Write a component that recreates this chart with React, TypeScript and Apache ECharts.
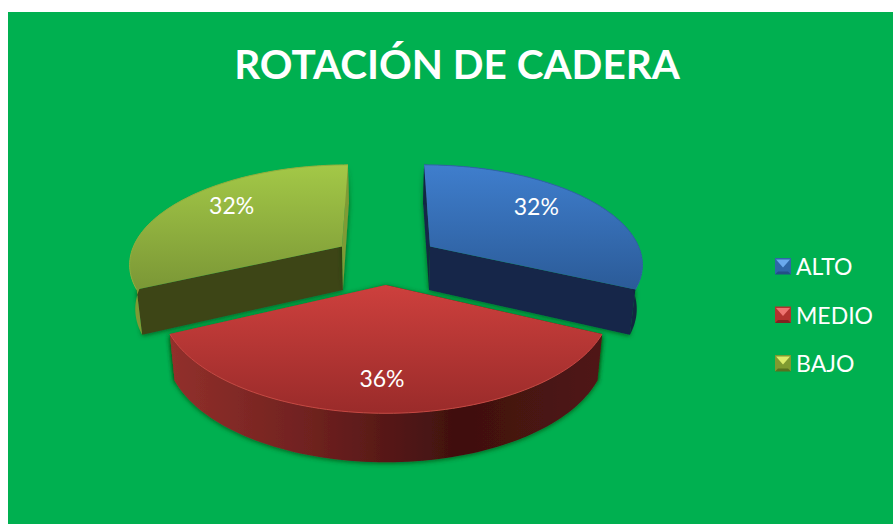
import React, { useEffect, useRef } from "react";
import * as echarts from "echarts";

const categories = ["ALTO", "MEDIO", "BAJO"];
const values = [32, 36, 32];
const titleText = "ROTACIÓN DE CADERA";

const FONT = "Lato, 'Open Sans', sans-serif";
const topColors = [["#3f7ecd", "#2b5b98"], ["#cd403d", "#9a2b2a"], ["#a3c847", "#7b9736"]];
const rimColors = ["#2f66a6", "#c94643", "#8faf3e"];
const wallColors: string[][] = [
  ["#14284a", "#122640"],
  ["#92302b", "#6e211f", "#3f100f", "#501614"],
  ["#3c4518", "#3a4318"],
];
const startWallColors = ["#14284a", "#501614", "#3c4518"];
const endWallColors = ["#13274a", "#92302b", "#7f9a35"];
const outerWallColors: any[] = ["#122640", null, "#7f9a35"];
const swatchColors = [
  ["#2f66a8", "#6aa9ee", "#234f86"],
  ["#b3322f", "#ee7370", "#7e2321"],
  ["#7f9a30", "#dceb6a", "#58701f"],
];
const labelT = [0.9, 1.01, 0.92];
const labelDx = [0, -4, -1];
const labelDy = [-9, 0, -9];
const zOrder = [2, 3, 2];

const CX = 386, CY = 259.4, RX = 213, RY = 98.5, K = 0.16, EXPLODE = 0.25, Q = 0.978;

const total = values.reduce((a, b) => a + b, 0);
const starts: number[] = [];
values.reduce((acc, v, i) => {
  starts[i] = (acc / total) * 2 * Math.PI;
  return acc + v;
}, 0);

function project(X: number, Y: number) {
  const w = 1 - K * Y;
  return { x: CX + (RX * X) / w, y: CY + (RY * Y) / w, w };
}
function lower(p: { x: number; y: number; w: number }) {
  return { x: CX + (p.x - CX) * Q, y: p.y + 44 + 25 * (1 - p.w), w: p.w };
}
const xy = (p: { x: number; y: number }) => [p.x, p.y];

function renderSlice(i: number) {
  return (_params: any, api: any) => {
    const v = api.value(0);
    const a0 = starts[i];
    const a1 = a0 + (v / total) * 2 * Math.PI;
    const mid = (a0 + a1) / 2;
    const ox = EXPLODE * Math.sin(mid), oy = -EXPLODE * Math.cos(mid);
    const apex = project(ox, oy);
    const arc: any[] = [];
    const n = 80;
    for (let s = 0; s <= n; s++) {
      const t = a0 + ((a1 - a0) * s) / n;
      arc.push(project(Math.sin(t) + ox, -Math.cos(t) + oy));
    }
    const low = arc.map(lower);
    const shadow = { shadowBlur: 5, shadowColor: "rgba(0,60,25,0.75)", shadowOffsetX: 0, shadowOffsetY: 1 };
    const grad = (c: string[], x2: number, y2: number) =>
      new echarts.graphic.LinearGradient(0, 0, x2, y2, c.map((color, k) => ({ offset: k / (c.length - 1), color })));
    const outerFill = outerWallColors[i] || grad(wallColors[i], 1, 0);
    const wall = (a: any, b: any, fill: any) => ({
      type: "polygon",
      shape: { points: [xy(a), xy(b), xy(lower(b)), xy(lower(a))] },
      style: { fill, ...shadow },
    });
    const pct = Math.round((v / total) * 100);
    const labelPos = project(labelT[i] * Math.sin(mid), -Math.cos(mid) * labelT[i]);
    return {
      type: "group",
      children: [
        wall(apex, arc[0], startWallColors[i]),
        wall(apex, arc[n], endWallColors[i]),
        {
          type: "polygon",
          shape: { points: [...arc.map(xy), ...low.slice().reverse().map(xy)] },
          style: { fill: outerFill, ...(outerWallColors[i] ? {} : shadow) },
        },
        {
          type: "polygon",
          shape: { points: [xy(apex), ...arc.map(xy)] },
          style: { fill: grad(topColors[i], 0, 1) },
        },
        {
          type: "polyline",
          shape: { points: arc.map(xy) },
          style: { stroke: rimColors[i], lineWidth: 1, fill: "none" },
        },
        {
          type: "text",
          x: labelPos.x + labelDx[i],
          y: labelPos.y + labelDy[i],
          style: {
            text: pct + "%",
            fill: "#ffffff",
            font: "23px " + FONT,
            align: "center",
            verticalAlign: "middle",
          },
        },
      ],
    };
  };
}

const swatches: any[] = categories.flatMap((_, i) => {
  const x = 775, y = 258.5 + i * 48.5, s = 16, b = 3;
  const [, light, dark] = swatchColors[i];
  return [
    {
      type: "polygon", z: 20, silent: true,
      shape: { points: [[x + 1, y + 1], [x + s - 1, y + 1], [x + s / 2, y + s / 2 + 1]] },
      style: { fill: light },
    },
    {
      type: "polygon", z: 20, silent: true,
      shape: { points: [[x, y + s], [x + s, y + s], [x + s - b, y + s - b], [x + b, y + s - b]] },
      style: { fill: dark },
    },
  ];
});

export default function App() {
  const ref = useRef<HTMLDivElement>(null);
  useEffect(() => {
    document.body.style.margin = "0";
    const chart = echarts.init(ref.current!, null, { renderer: "svg" });
    chart.setOption({
      animation: false,
      backgroundColor: "#ffffff",
      title: {
        text: titleText,
        left: 452,
        top: 38,
        textAlign: "center",
        textStyle: { color: "#ffffff", fontFamily: FONT, fontWeight: "bold", fontSize: 40.5 },
      },
      legend: {
        data: categories,
        orient: "vertical",
        left: 775,
        top: 254.5,
        padding: 0,
        icon: "rect",
        itemWidth: 16,
        itemHeight: 16,
        itemGap: 25.5,
        selectedMode: false,
        textStyle: { color: "#ffffff", fontFamily: FONT, fontSize: 23 },
      },
      graphic: [
        {
          type: "rect", z: -1, silent: true,
          shape: { x: 8, y: 12, width: 885, height: 512 },
          style: { fill: "#00b050" },
        },
        ...swatches,
      ],
      series: categories.map((name, i) => ({
        type: "custom",
        name,
        coordinateSystem: "none",
        z: zOrder[i],
        silent: true,
        itemStyle: { color: swatchColors[i][0] },
        renderItem: renderSlice(i),
        data: [[values[i]]],
      })),
    });
    return () => chart.dispose();
  }, []);
  return <div ref={ref} style={{ width: 893, height: 524 }} />;
}
